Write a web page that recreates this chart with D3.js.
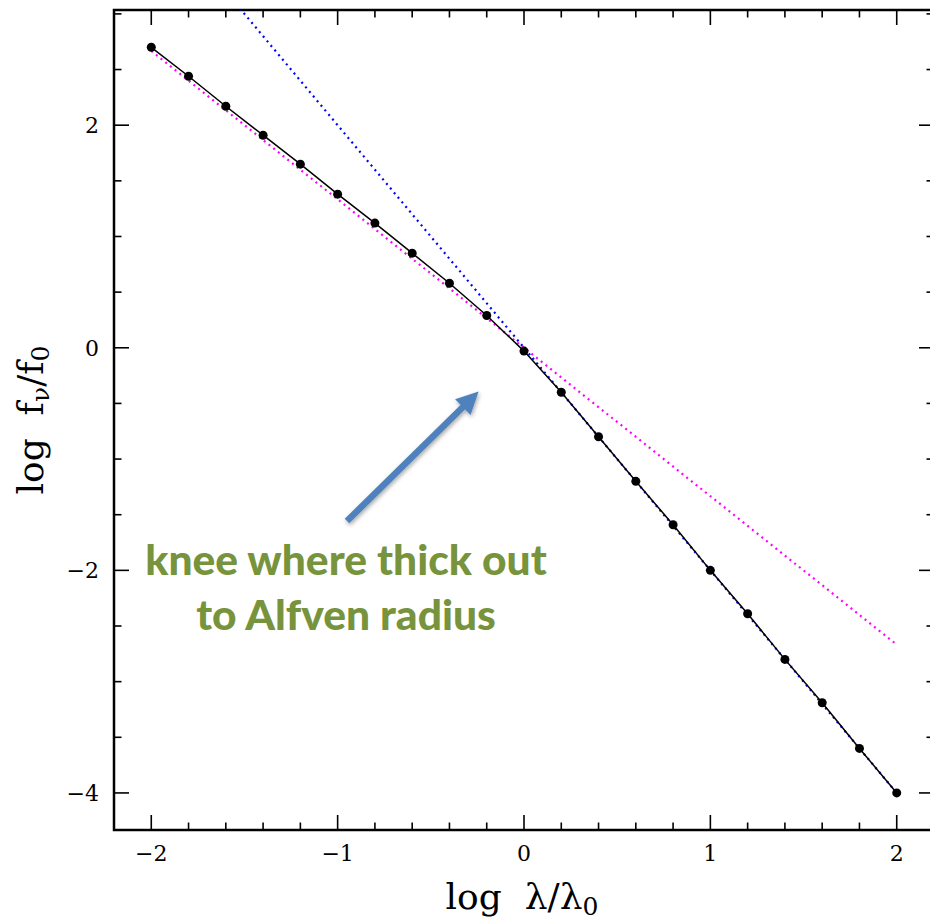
<!DOCTYPE html>
<html>
<head>
<meta charset="utf-8">
<script src="https://cdn.jsdelivr.net/npm/d3@7"></script>
<style>
  body { margin: 0; background: #fff; }
  svg { display: block; }
</style>
</head>
<body>
<div id="chart"></div>
<script>
// measured spectrum, log lambda/lambda0 vs log f_nu/f0
const logLam = [-2, -1.8, -1.6, -1.4, -1.2, -1, -0.8, -0.6, -0.4, -0.2, 0,
                0.2, 0.4, 0.6, 0.8, 1, 1.2, 1.4, 1.6, 1.8, 2];
const logFlux = [2.70, 2.44, 2.17, 1.91, 1.65, 1.38, 1.12, 0.85, 0.58, 0.29, -0.03,
                 -0.40, -0.80, -1.20, -1.59, -2.00, -2.39, -2.80, -3.19, -3.60, -4.00];

// asymptotes (end points)
const thinX = [-2, 2];
const thinY = [2.667, -2.667];
const thickX = [-2, 2];
const thickY = [4, -4];

const xMajor = [-2, -1, 0, 1, 2];
const yMajor = [-4, -2, 0, 2];

const noteLines = ["knee where thick out", "to Alfven radius"];

const width = 930, height = 922;
const x = d3.scaleLinear().domain([-2.2, 2.2]).range([114, 934]);
const y = d3.scaleLinear().domain([-4.333, 3.035]).range([830, 10]);

const svg = d3.select("#chart").append("svg")
    .attr("width", width)
    .attr("height", height);

const defs = svg.append("defs");
defs.append("clipPath").attr("id", "frame")
  .append("rect")
    .attr("x", x.range()[0]).attr("y", y.range()[1])
    .attr("width", x.range()[1] - x.range()[0])
    .attr("height", y.range()[0] - y.range()[1]);

const shadow = defs.append("filter").attr("id", "shadow")
    .attr("x", "-20%").attr("y", "-20%").attr("width", "140%").attr("height", "140%");
shadow.append("feDropShadow")
    .attr("dx", 1).attr("dy", 2).attr("stdDeviation", 2)
    .attr("flood-color", "#000").attr("flood-opacity", 0.35);

defs.append("marker").attr("id", "head")
    .attr("viewBox", "0 0 10 10")
    .attr("refX", 2).attr("refY", 5)
    .attr("markerWidth", 3.4).attr("markerHeight", 3.4)
    .attr("markerUnits", "strokeWidth")
    .attr("orient", "auto")
  .append("path")
    .attr("d", "M0,0 L10,5 L0,10 Z")
    .attr("fill", "#4f81bd");

const fontSerif = "'DejaVu Serif', 'Liberation Serif', serif";

// ticks on all four sides, inside
const tickG = svg.append("g").attr("stroke", "#000").attr("stroke-width", 1.6);
const xMinor = d3.range(-22, 23, 2).map(d => d / 10);
const yMinor = d3.range(-8, 7).map(d => d / 2);

xMinor.forEach(v => {
  const major = xMajor.some(m => Math.abs(m - v) < 1e-9);
  const len = major ? 15 : 7.5;
  tickG.append("line").attr("x1", x(v)).attr("x2", x(v))
      .attr("y1", y.range()[0]).attr("y2", y.range()[0] - len);
  tickG.append("line").attr("x1", x(v)).attr("x2", x(v))
      .attr("y1", y.range()[1]).attr("y2", y.range()[1] + len);
});
yMinor.forEach(v => {
  const major = yMajor.some(m => Math.abs(m - v) < 1e-9);
  const len = major ? 15 : 7.5;
  tickG.append("line").attr("y1", y(v)).attr("y2", y(v))
      .attr("x1", x.range()[0]).attr("x2", x.range()[0] + len);
  tickG.append("line").attr("y1", y(v)).attr("y2", y(v))
      .attr("x1", x.range()[1]).attr("x2", x.range()[1] - len);
});

svg.append("rect")
    .attr("x", x.range()[0]).attr("y", y.range()[1])
    .attr("width", x.range()[1] - x.range()[0])
    .attr("height", y.range()[0] - y.range()[1])
    .attr("fill", "none").attr("stroke", "#000").attr("stroke-width", 2.5);

// tick labels
const fmt = d => d < 0 ? "\u2212" + Math.abs(d) : String(d);
svg.append("g").selectAll("text").data(xMajor).join("text")
    .attr("x", d => x(d)).attr("y", 861)
    .attr("text-anchor", "middle")
    .style("font-family", fontSerif).style("font-size", "22px")
    .text(fmt);
svg.append("g").selectAll("text").data(yMajor).join("text")
    .attr("x", 99).attr("y", d => y(d) + 8)
    .attr("text-anchor", "end")
    .style("font-family", fontSerif).style("font-size", "22px")
    .text(fmt);

// axis titles
const xt = svg.append("text")
    .attr("x", 522).attr("y", 909)
    .attr("text-anchor", "middle")
    .style("white-space", "pre")
    .style("font-family", fontSerif).style("font-size", "36px");
xt.append("tspan").text("log  \u03bb/\u03bb");
xt.append("tspan").attr("dy", 6).style("font-size", "25px").text("0");

const yt = svg.append("text")
    .attr("transform", `translate(43,${(y.range()[0] + y.range()[1]) / 2}) rotate(-90)`)
    .attr("text-anchor", "middle")
    .style("white-space", "pre")
    .style("font-family", fontSerif).style("font-size", "36px");
yt.append("tspan").text("log  f");
yt.append("tspan").attr("dy", 6).style("font-size", "25px").text("\u03bd");
yt.append("tspan").attr("dy", -6).text("/f");
yt.append("tspan").attr("dy", 6).style("font-size", "25px").text("0");

// curves
const plot = svg.append("g").attr("clip-path", "url(#frame)");
const line = d3.line().x(d => x(d[0])).y(d => y(d[1]));

plot.append("path")
    .datum(d3.zip(thinX, thinY))
    .attr("d", line)
    .attr("fill", "none").attr("stroke", "#ff00ff")
    .attr("stroke-width", 2.2).attr("stroke-dasharray", "2 4");

plot.append("path")
    .datum(d3.zip(thickX, thickY))
    .attr("d", line)
    .attr("fill", "none").attr("stroke", "#0000ff")
    .attr("stroke-width", 2.2).attr("stroke-dasharray", "2 4");

plot.append("path")
    .datum(d3.zip(logLam, logFlux))
    .attr("d", line)
    .attr("fill", "none").attr("stroke", "#000").attr("stroke-width", 1.5);

plot.append("g").selectAll("circle").data(d3.zip(logLam, logFlux)).join("circle")
    .attr("cx", d => x(d[0])).attr("cy", d => y(d[1]))
    .attr("r", 4.5).attr("fill", "#000");

// annotation arrow and note
svg.append("line")
    .attr("x1", 347).attr("y1", 521)
    .attr("x2", 466).attr("y2", 404)
    .attr("stroke", "#4f81bd").attr("stroke-width", 6.5)
    .attr("marker-end", "url(#head)")
    .attr("filter", "url(#shadow)");

svg.append("g").selectAll("text").data(noteLines).join("text")
    .attr("x", 346).attr("y", (d, i) => 575 + i * 55)
    .attr("text-anchor", "middle")
    .style("font-family", "Lato, 'Open Sans', sans-serif")
    .style("font-weight", 900).style("font-size", "42.5px")
    .attr("fill", "#77933c")
    .text(d => d);
</script>
</body>
</html>
